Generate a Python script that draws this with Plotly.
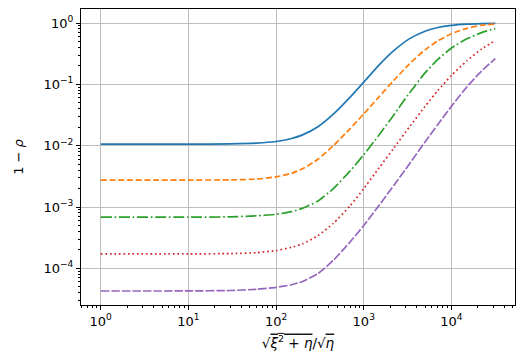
import plotly.graph_objects as go

# x = sqrt(xi^2 + eta)/sqrt(eta)
x_vals = [1, 10, 30, 60, 100, 150, 200, 300, 450, 700, 1000, 1500, 2200,
          3300, 5000, 7000, 10000, 15000, 22000, 31623]

# 1 - rho for the five curves
blue = [0.0106, 0.0106, 0.0107, 0.0110, 0.0117, 0.0131, 0.0150, 0.0204, 0.0327,
        0.062, 0.109, 0.208, 0.354, 0.552, 0.737, 0.847, 0.918, 0.962, 0.982, 0.991]
orange = [0.00275, 0.00275, 0.00277, 0.00285, 0.0031, 0.00355, 0.0042, 0.0060,
          0.0100, 0.019, 0.033, 0.063, 0.116, 0.214, 0.366, 0.513, 0.67, 0.82,
          0.92, 0.965]
green = [6.84e-4, 6.85e-4, 6.9e-4, 7.2e-4, 7.6e-4, 8.4e-4, 9.5e-4, 1.25e-3,
         2.0e-3, 3.88e-3, 7.13e-3, 0.0151, 0.0318, 0.0716, 0.154, 0.255, 0.392,
         0.553, 0.697, 0.815]
red = [1.72e-4, 1.72e-4, 1.74e-4, 1.8e-4, 1.95e-4, 2.2e-4, 2.5e-4, 3.4e-4,
       5.4e-4, 1.05e-3, 2.0e-3, 4.37e-3, 9.1e-3, 0.020, 0.0437, 0.0794, 0.14,
       0.242, 0.375, 0.52]
purple = [4.27e-5, 4.28e-5, 4.35e-5, 4.55e-5, 4.9e-5, 5.4e-5, 6.1e-5, 8.2e-5,
          1.35e-4, 2.7e-4, 5.0e-4, 1.07e-3, 2.25e-3, 5.0e-3, 0.0115, 0.0222,
          0.0438, 0.091, 0.164, 0.263]

x_ticks = [1, 10, 100, 1000, 10000]
x_labels = ["10<sup>0</sup>", "10<sup>1</sup>", "10<sup>2</sup>",
            "10<sup>3</sup>", "10<sup>4</sup>"]
y_ticks = [1e-4, 1e-3, 1e-2, 1e-1, 1]
y_labels = ["10<sup>\u22124</sup>", "10<sup>\u22123</sup>", "10<sup>\u22122</sup>",
            "10<sup>\u22121</sup>", "10<sup>0</sup>"]

series = [
    (blue, "#1f77b4", "solid"),
    (orange, "#ff7f0e", "6px,2.7px"),
    (green, "#2ca02c", "11px,2.7px,1.7px,2.7px"),
    (red, "#d62728", "1.7px,2.8px"),
    (purple, "#9467bd", "8.5px,2px"),
]

fig = go.Figure()
for ys, color, dash in series:
    fig.add_trace(go.Scatter(
        x=x_vals, y=ys, mode="lines",
        line=dict(color=color, width=1.7, dash=dash, shape="spline", smoothing=0.5),
        showlegend=False,
    ))

minor_x = [m * 10 ** e for e in range(-1, 5) for m in range(2, 10)]
minor_y = [m * 10 ** e for e in range(-5, 1) for m in range(2, 10)]

axis_style = dict(
    type="log", showline=True, linecolor="black", linewidth=1, mirror=True,
    ticks="outside", ticklen=4, tickcolor="black", tickwidth=1,
    showgrid=True, gridcolor="#bdbdbd", gridwidth=0.8, zeroline=False,
    tickfont=dict(family="DejaVu Sans", size=13, color="black"),
    tickmode="array", automargin=False,
)

fig.update_xaxes(
    **axis_style, range=[-0.225, 4.725], tickvals=x_ticks, ticktext=x_labels,
    minor=dict(tickvals=minor_x, ticks="outside", ticklen=2, tickcolor="black",
               showgrid=False),
    title=dict(
        text="\u221a<span style='text-decoration:overline'><i>\u03be</i><sup>2</sup> + <i>\u03b7</i></span>"
             "/\u221a<span style='text-decoration:overline'><i>\u03b7</i></span>",
        font=dict(family="DejaVu Sans", size=13.5, color="black"), standoff=10),
)
fig.update_yaxes(
    **axis_style, range=[-4.598, 0.229], tickvals=y_ticks, ticktext=y_labels,
    minor=dict(tickvals=minor_y, ticks="outside", ticklen=2, tickcolor="black",
               showgrid=False),
    title=dict(text="1 \u2212 <i>\u03c1</i>",
               font=dict(family="DejaVu Sans", size=13, color="black"), standoff=16),
)

# the page body adds an 8px offset, so the margins are shifted to compensate
fig.update_layout(
    width=527, height=359,
    margin=dict(l=73, r=20, t=1, b=62),
    paper_bgcolor="white", plot_bgcolor="white",
    font=dict(family="DejaVu Sans"),
)

fig.write_html("out.html")
